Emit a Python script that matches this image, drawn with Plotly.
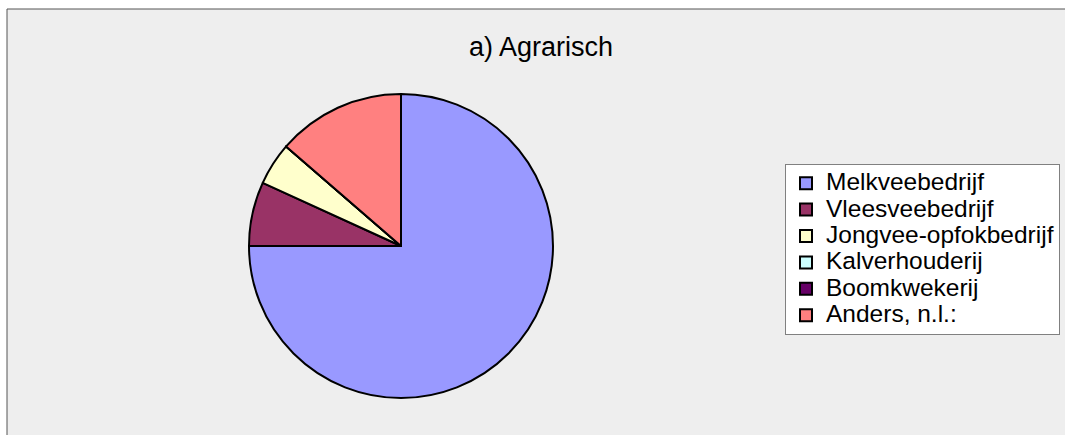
import plotly.graph_objects as go

labels = ["Melkveebedrijf", "Vleesveebedrijf", "Jongvee-opfokbedrijf",
          "Kalverhouderij", "Boomkwekerij", "Anders, n.l.:"]
values = [33, 3, 2, 0, 0, 6]
colors = ["#9999FF", "#993366", "#FFFFCC", "#CCFFFF", "#660066", "#FF8080"]
title_text = "a) Agrarisch"

W, H = 1065, 435
cx, cy, r = 401, 246, 152

legend_labels = [f"<span style='font-size:24.5px'>{l}</span>" for l in labels]

fig = go.Figure(go.Pie(
    labels=legend_labels, values=values, sort=False, direction="clockwise", rotation=0,
    marker=dict(colors=colors, line=dict(color="black", width=2)),
    textinfo="none", customdata=labels,
    hovertemplate="%{customdata}: %{value} (%{percent})<extra></extra>",
    domain=dict(x=[(cx - r) / W, (cx + r) / W], y=[1 - (cy + r) / H, 1 - (cy - r) / H]),
))

fig.update_layout(
    width=W, height=H,
    margin=dict(l=0, r=0, t=0, b=0),
    paper_bgcolor="white",
    font=dict(family="Arial, Liberation Sans, sans-serif", color="black"),
    shapes=[dict(type="rect", xref="paper", yref="paper", layer="below",
                 x0=7 / W, x1=1.02, y0=-0.02, y1=1 - 9 / H,
                 fillcolor="#EEEEEE", line=dict(color="#555555", width=1))],
    annotations=[dict(text=title_text, xref="paper", yref="paper", x=541 / W, y=1 - 47 / H,
                      showarrow=False, font=dict(size=27), xanchor="center", yanchor="middle")],
    legend=dict(x=785 / W, y=1 - 164 / H, xanchor="left", yanchor="top",
                bgcolor="white", bordercolor="#808080", borderwidth=1,
                font=dict(size=18), traceorder="normal", tracegroupgap=0),
    showlegend=True,
)

fig.write_html("out.html", config={"displayModeBar": False},
               post_script="document.body.style.margin='0';")
